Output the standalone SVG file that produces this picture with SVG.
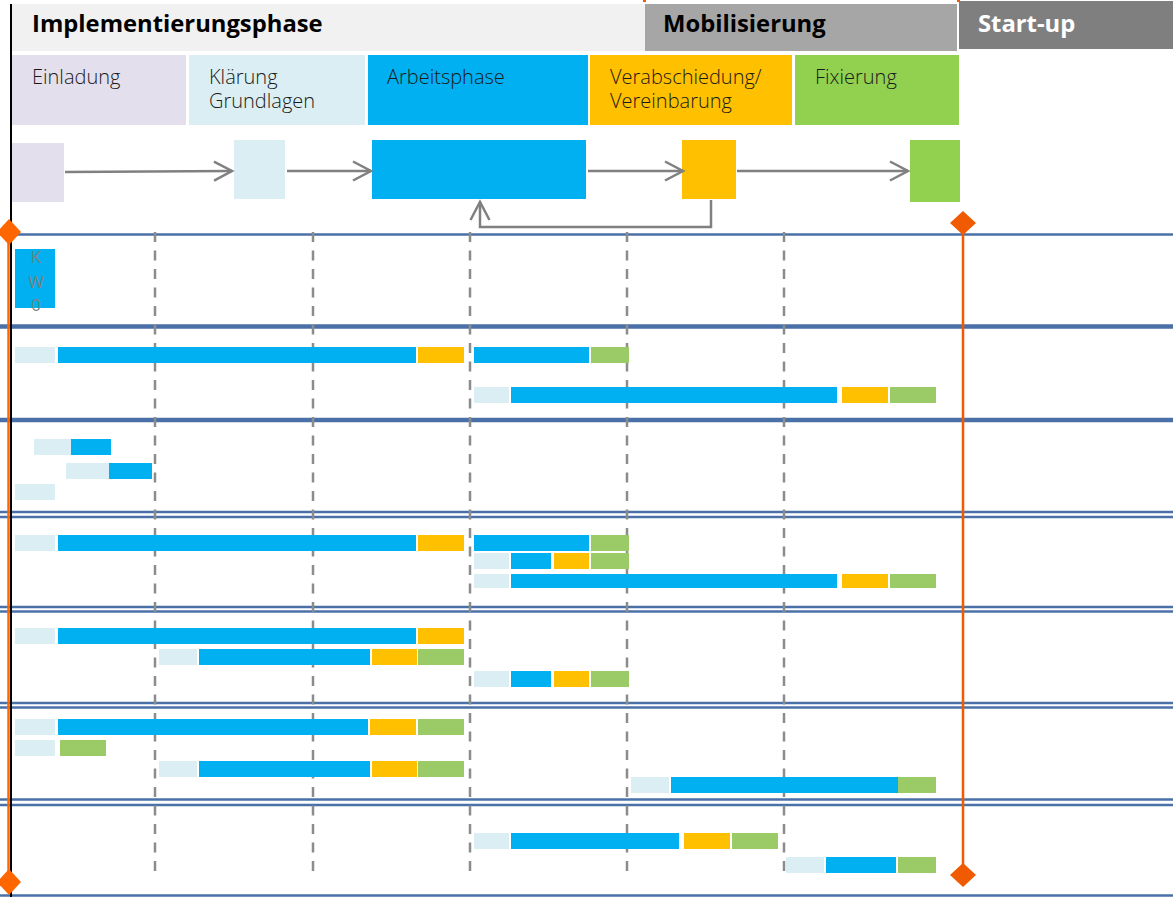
<svg xmlns="http://www.w3.org/2000/svg" width="1173" height="897" viewBox="0 0 1173 897">
<style>
.hdr{font-family:"Open Sans","Liberation Sans",sans-serif;font-weight:700;font-size:23.8px;fill:#000}
.ph{font-family:"Open Sans","Liberation Sans",sans-serif;font-weight:300;font-size:20px;fill:#1a1a1a}
.kw{font-family:"Open Sans","Liberation Sans",sans-serif;font-size:17px;fill:#7f7f7f;text-anchor:middle}
.flow{stroke:#808080;stroke-width:2.5;fill:none}
.grid{stroke:#8c8c8c;stroke-width:2.5;stroke-dasharray:10 8.5}
.hl{stroke:#4a70a8;stroke-width:2.5}
.hlt{stroke:#4a70a8;stroke-width:4.5}
.lb{fill:#daeef3}.bl{fill:#00b0f0}.ye{fill:#ffc000}.gr{fill:#9bcb67}
</style>
<defs>
<marker id="chev" markerUnits="userSpaceOnUse" markerWidth="24" markerHeight="24" viewBox="-20 -12 24 24" refX="0" refY="0" orient="auto">
<path d="M-18,-9.5 L0,0 L-18,9.5" fill="none" stroke="#808080" stroke-width="2.5"/>
</marker>
</defs>
<rect width="1173" height="897" fill="#fff"/>

<g id="header">
<rect x="12" y="4" width="633" height="47" fill="#f1f1f1"/>
<text class="hdr" x="32" y="32">Implementierungsphase</text>
<rect x="645" y="4" width="312" height="47" fill="#a6a6a6"/>
<text class="hdr" x="663" y="32">Mobilisierung</text>
<rect x="959" y="1" width="214" height="48" fill="#7f7f7f"/>
<text class="hdr" x="978" y="32" style="fill:#fff">Start-up</text>
<rect x="643" y="0" width="3" height="2" fill="#f05a00"/>
<rect x="957" y="0" width="3" height="2" fill="#f05a00"/>
</g>

<g id="phases">
<g id="einladung"><rect x="12" y="55" width="174" height="70" fill="#e4dfec"/><text class="ph" x="32" y="84">Einladung</text></g>
<g id="klaerung"><rect x="189" y="55" width="176" height="70" fill="#daeef3"/><text class="ph" x="209" y="84">Klärung</text><text class="ph" x="209" y="108">Grundlagen</text></g>
<g id="arbeitsphase"><rect x="368" y="55" width="220" height="70" fill="#00b0f0"/><text class="ph" x="387" y="84">Arbeitsphase</text></g>
<g id="verabschiedung"><rect x="590" y="55" width="202" height="70" fill="#ffc000"/><text class="ph" x="610" y="84">Verabschiedung/</text><text class="ph" x="610" y="108">Vereinbarung</text></g>
<g id="fixierung"><rect x="795" y="55" width="164" height="70" fill="#92d050"/><text class="ph" x="815" y="84">Fixierung</text></g>
</g>

<g id="flow-nodes">
<rect id="f-einladung" x="12" y="143" width="52" height="59" fill="#e4dfec"/>
<rect id="f-klaerung" x="234" y="140" width="51" height="59" fill="#daeef3"/>
<rect id="f-arbeit" x="372" y="140" width="214" height="59" fill="#00b0f0"/>
<rect id="f-verab" x="682" y="140" width="54" height="59" fill="#ffc000"/>
<rect id="f-fix" x="910" y="140" width="50" height="62" fill="#92d050"/>
</g>

<g id="connectors">
<line class="flow" x1="65" y1="172" x2="232" y2="171" marker-end="url(#chev)"/>
<line class="flow" x1="287" y1="171" x2="371" y2="171" marker-end="url(#chev)"/>
<line class="flow" x1="588" y1="171" x2="683" y2="171" marker-end="url(#chev)"/>
<line class="flow" x1="737" y1="171" x2="908" y2="171" marker-end="url(#chev)"/>
<polyline class="flow" points="711,200 711,227 480,227 480,202" marker-end="url(#chev)"/>
</g>

<g id="hlines">
<line class="hl" x1="0" y1="234.5" x2="1173" y2="234.5"/>
<line class="hlt" x1="0" y1="326.5" x2="1173" y2="326.5"/>
<line class="hlt" x1="0" y1="420" x2="1173" y2="420"/>
<line class="hl" x1="0" y1="512" x2="1173" y2="512"/>
<line class="hl" x1="0" y1="517" x2="1173" y2="517"/>
<line class="hl" x1="0" y1="607" x2="1173" y2="607"/>
<line class="hl" x1="0" y1="611.5" x2="1173" y2="611.5"/>
<line class="hl" x1="0" y1="703" x2="1173" y2="703"/>
<line class="hl" x1="0" y1="707.5" x2="1173" y2="707.5"/>
<line class="hl" x1="0" y1="799.5" x2="1173" y2="799.5"/>
<line class="hl" x1="0" y1="805" x2="1173" y2="805"/>
<line class="hl" x1="0" y1="895.5" x2="1173" y2="895.5"/>
</g>

<g id="grid">
<line class="grid" x1="155" y1="232" x2="155" y2="878"/>
<line class="grid" x1="313" y1="232" x2="313" y2="878"/>
<line class="grid" x1="470" y1="232" x2="470" y2="878"/>
<line class="grid" x1="627" y1="232" x2="627" y2="878"/>
<line class="grid" x1="784" y1="232" x2="784" y2="878"/>
</g>

<g id="kw0">
<rect x="15" y="249" width="40" height="59" fill="#00b0f0"/>
<text class="kw" x="36" y="263">K</text>
<text class="kw" x="36" y="288">W</text>
<text class="kw" x="36" y="311">0</text>
</g>

<g id="bars">
<rect class="lb" x="15" y="347" width="40" height="16"/><rect class="bl" x="58" y="347" width="358" height="16"/><rect class="ye" x="418" y="347" width="46" height="16"/><rect class="bl" x="474" y="347" width="115" height="16"/><rect class="gr" x="591" y="347" width="38" height="16"/>
<rect class="lb" x="474" y="387" width="35" height="16"/><rect class="bl" x="511" y="387" width="326" height="16"/><rect class="ye" x="842" y="387" width="46" height="16"/><rect class="gr" x="890" y="387" width="46" height="16"/>

<rect class="lb" x="34" y="439" width="37" height="16"/><rect class="bl" x="71" y="439" width="40" height="16"/>
<rect class="lb" x="66" y="463" width="43" height="16"/><rect class="bl" x="109" y="463" width="43" height="16"/>
<rect class="lb" x="15" y="484" width="40" height="16"/>

<rect class="lb" x="15" y="535" width="40" height="16"/><rect class="bl" x="58" y="535" width="358" height="16"/><rect class="ye" x="418" y="535" width="46" height="16"/><rect class="bl" x="474" y="535" width="115" height="16"/><rect class="gr" x="591" y="535" width="38" height="16"/>
<rect class="lb" x="474" y="553" width="35" height="16"/><rect class="bl" x="511" y="553" width="40" height="16"/><rect class="ye" x="554" y="553" width="35" height="16"/><rect class="gr" x="591" y="553" width="38" height="16"/>
<rect class="lb" x="474" y="574" width="35" height="14"/><rect class="bl" x="511" y="574" width="326" height="14"/><rect class="ye" x="842" y="574" width="46" height="14"/><rect class="gr" x="890" y="574" width="46" height="14"/>

<rect class="lb" x="15" y="628" width="40" height="16"/><rect class="bl" x="58" y="628" width="358" height="16"/><rect class="ye" x="418" y="628" width="46" height="16"/>
<rect class="lb" x="159" y="649" width="38" height="16"/><rect class="bl" x="199" y="649" width="171" height="16"/><rect class="ye" x="372" y="649" width="45" height="16"/><rect class="gr" x="418" y="649" width="46" height="16"/>
<rect class="lb" x="474" y="671" width="35" height="16"/><rect class="bl" x="511" y="671" width="40" height="16"/><rect class="ye" x="554" y="671" width="35" height="16"/><rect class="gr" x="591" y="671" width="38" height="16"/>

<rect class="lb" x="15" y="719" width="40" height="16"/><rect class="bl" x="58" y="719" width="310" height="16"/><rect class="ye" x="370" y="719" width="46" height="16"/><rect class="gr" x="418" y="719" width="46" height="16"/>
<rect class="lb" x="15" y="740" width="40" height="16"/><rect class="gr" x="60" y="740" width="46" height="16"/>
<rect class="lb" x="159" y="761" width="38" height="16"/><rect class="bl" x="199" y="761" width="171" height="16"/><rect class="ye" x="372" y="761" width="45" height="16"/><rect class="gr" x="418" y="761" width="46" height="16"/>
<rect class="lb" x="631" y="777" width="38" height="16"/><rect class="bl" x="671" y="777" width="227" height="16"/><rect class="gr" x="898" y="777" width="38" height="16"/>

<rect class="lb" x="474" y="833" width="35" height="16"/><rect class="bl" x="511" y="833" width="168" height="16"/><rect class="ye" x="684" y="833" width="46" height="16"/><rect class="gr" x="732" y="833" width="46" height="16"/>
<rect class="lb" x="786" y="857" width="38" height="16"/><rect class="bl" x="826" y="857" width="70" height="16"/><rect class="gr" x="898" y="857" width="38" height="16"/>
</g>

<g id="milestones">
<line x1="8.5" y1="232" x2="8.5" y2="882" stroke="#ff6600" stroke-width="2.5"/>
<line x1="11" y1="4" x2="11" y2="897" stroke="#000" stroke-width="2"/>
<polygon points="9,219 21,232 9,245 -3,232" fill="#ff6600"/>
<polygon points="9,869 21,882 9,895 -3,882" fill="#ff6600"/>
<line x1="963" y1="223" x2="963" y2="875" stroke="#f05a00" stroke-width="2.5"/>
<polygon points="963,211 976,223 963,235 950,223" fill="#f05a00"/>
<polygon points="963,863 976,875 963,887 950,875" fill="#f05a00"/>
</g>
</svg>
